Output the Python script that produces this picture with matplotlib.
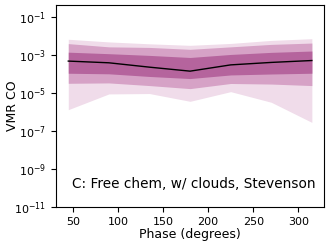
import matplotlib
matplotlib.use("Agg")
import matplotlib.pyplot as plt
import numpy as np

# phase grid and log10 VMR CO percentiles
phase = [45, 90, 135, 180, 225, 270, 315]
log_median = [-3.31, -3.40, -3.63, -3.84, -3.51, -3.38, -3.28]
log_1s_hi = [-2.84, -2.92, -3.01, -3.12, -2.96, -2.85, -2.78]
log_1s_lo = [-3.95, -3.98, -4.12, -4.23, -4.04, -3.99, -3.95]
log_2s_hi = [-2.39, -2.56, -2.59, -2.69, -2.56, -2.43, -2.36]
log_2s_lo = [-4.48, -4.46, -4.60, -4.76, -4.49, -4.52, -4.60]
log_3s_hi = [-2.16, -2.30, -2.40, -2.48, -2.38, -2.22, -2.13]
log_3s_lo = [-5.87, -5.04, -5.02, -5.43, -4.92, -5.48, -6.54]

LIGHT = "#f0dcea"
MID = "#d6a2c6"
DARK = "#b5649d"

fig = plt.figure(figsize=(3.32, 2.43), dpi=100)
ax = fig.add_axes([0.169, 0.148, 0.807, 0.831])

p = np.array(phase)
ax.fill_between(p, 10 ** np.array(log_3s_lo), 10 ** np.array(log_3s_hi), color=LIGHT, lw=0)
ax.fill_between(p, 10 ** np.array(log_2s_lo), 10 ** np.array(log_2s_hi), color=MID, lw=0)
ax.fill_between(p, 10 ** np.array(log_1s_lo), 10 ** np.array(log_1s_hi), color=DARK, lw=0)
ax.plot(p, 10 ** np.array(log_median), color="black", lw=1)

ax.set_yscale("log")
ax.set_ylim(1e-11, 10 ** -0.36)
ax.set_yticks([1e-11, 1e-9, 1e-7, 1e-5, 1e-3, 1e-1])
ax.minorticks_off()
ax.tick_params(labelsize=8)
ax.set_xlabel("Phase (degrees)", fontsize=9)
ax.xaxis.set_label_coords(0.5, -0.135, transform=ax.transAxes)
ax.xaxis.label.set_va("center")
ax.set_ylabel("VMR CO", fontsize=9)
ax.yaxis.set_label_coords(-0.164, 0.5, transform=ax.transAxes)
ax.yaxis.label.set_va("center")
ax.text(0.97, 0.115, "C: Free chem, w/ clouds, Stevenson", transform=ax.transAxes,
        ha="right", va="center", fontsize=9.8)

fig.savefig("out.png", dpi=100)
